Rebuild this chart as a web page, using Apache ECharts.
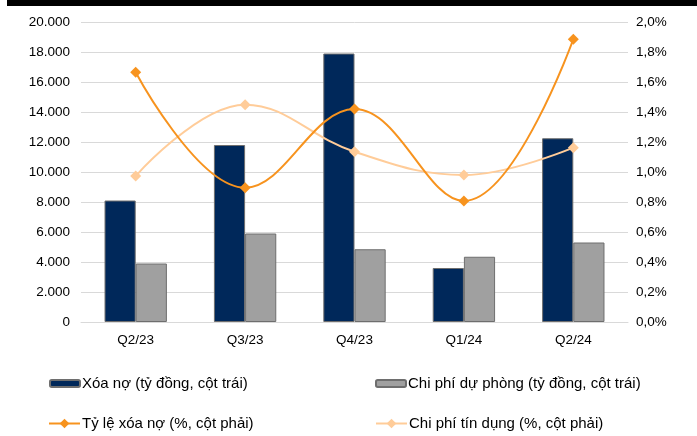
<!DOCTYPE html>
<html>
<head>
<meta charset="utf-8">
<script src="https://cdn.jsdelivr.net/npm/echarts@6/dist/echarts.min.js"></script>
<style>
  html, body { margin: 0; padding: 0; background: #fff; }
  #chart { width: 697px; height: 436px; }
</style>
</head>
<body>
<div id="chart"></div>
<script>
// Quarterly write-offs and provisioning (bn VND, left axis) with ratios (%, right axis)
const categories = ['Q2/23', 'Q3/23', 'Q4/23', 'Q1/24', 'Q2/24'];
const writeOff = [8100, 11800, 17900, 3600, 12250];          // Xóa nợ
const provisionCost = [3900, 5900, 4850, 4350, 5300];        // Chi phí dự phòng
const writeOffRatio = [1.665, 0.895, 1.42, 0.807, 1.885];    // Tỷ lệ xóa nợ
const creditCost = [0.973, 1.449, 1.135, 0.98, 1.162];       // Chi phí tín dụng

const names = [
  'Xóa nợ (tỷ đồng, cột trái)',
  'Chi phí dự phòng (tỷ đồng, cột trái)',
  'Tỷ lệ xóa nợ (%, cột phải)',
  'Chi phí tín dụng (%, cột phải)'
];

const FONT = '"Liberation Sans", Arial, sans-serif';
const NAVY = '#00285A';
const GREY = '#A0A0A0';
const ORANGE = '#F7931E';
const PEACH = '#FFCC99';

const fmtThousands = v => String(Math.round(v)).replace(/\B(?=(\d{3})+(?!\d))/g, '.');

function legendAt(name, left, top, isLine) {
  return {
    data: [name],
    left: left,
    top: top,
    itemWidth: isLine ? 31 : 30,
    itemHeight: isLine ? 12 : 7,
    itemGap: 0,
    padding: 0,
    selectedMode: false,
    textStyle: { fontFamily: FONT, fontSize: 15, color: '#000', padding: [0, 0, 0, -3] }
  };
}

const chart = echarts.init(document.getElementById('chart'), null, { renderer: 'canvas' });
chart.setOption({
  animation: false,
  backgroundColor: '#fff',
  graphic: [{
    type: 'rect',
    shape: { x: 7, y: 0, width: 690, height: 6 },
    style: { fill: '#000' },
    silent: true
  }],
  legend: [
    legendAt(names[0], 49, 376, false),
    legendAt(names[1], 375, 376, false),
    legendAt(names[2], 48, 416, true),
    legendAt(names[3], 375, 416, true)
  ],
  grid: { left: 81, right: 69, top: 22, bottom: 114 },
  xAxis: {
    type: 'category',
    data: categories,
    axisTick: { show: false },
    axisLine: { lineStyle: { color: '#D9D9D9', width: 1 } },
    axisLabel: { fontFamily: FONT, fontSize: 13.5, color: '#000', margin: 11 }
  },
  yAxis: [{
    type: 'value',
    min: 0, max: 20000, interval: 2000,
    axisLine: { show: false },
    axisTick: { show: false },
    splitLine: { lineStyle: { color: '#D9D9D9', width: 1 } },
    axisLabel: { fontFamily: FONT, fontSize: 13.5, color: '#000', margin: 11, formatter: fmtThousands }
  }, {
    type: 'value',
    min: 0, max: 2, interval: 0.2,
    axisLine: { show: false },
    axisTick: { show: false },
    splitLine: { show: false },
    axisLabel: {
      fontFamily: FONT, fontSize: 13.5, color: '#000', margin: 8,
      formatter: v => v.toFixed(1).replace('.', ',') + '%'
    }
  }],
  series: [{
    name: names[0],
    type: 'bar',
    data: writeOff,
    barGap: '0%',
    barCategoryGap: '43%',
    itemStyle: { color: NAVY, borderColor: '#6E6E6E', borderWidth: 1 }
  }, {
    name: names[1],
    type: 'bar',
    data: provisionCost,
    itemStyle: { color: GREY, borderColor: '#6E6E6E', borderWidth: 1 }
  }, {
    name: names[2],
    type: 'line',
    yAxisIndex: 1,
    data: writeOffRatio,
    smooth: 0.4,
    symbol: 'diamond',
    symbolSize: 11,
    lineStyle: { color: ORANGE, width: 2 },
    itemStyle: { color: ORANGE },
    z: 4
  }, {
    name: names[3],
    type: 'line',
    yAxisIndex: 1,
    data: creditCost,
    smooth: 0.4,
    symbol: 'diamond',
    symbolSize: 11,
    lineStyle: { color: PEACH, width: 2 },
    itemStyle: { color: PEACH },
    z: 3
  }]
});
</script>
</body>
</html>
